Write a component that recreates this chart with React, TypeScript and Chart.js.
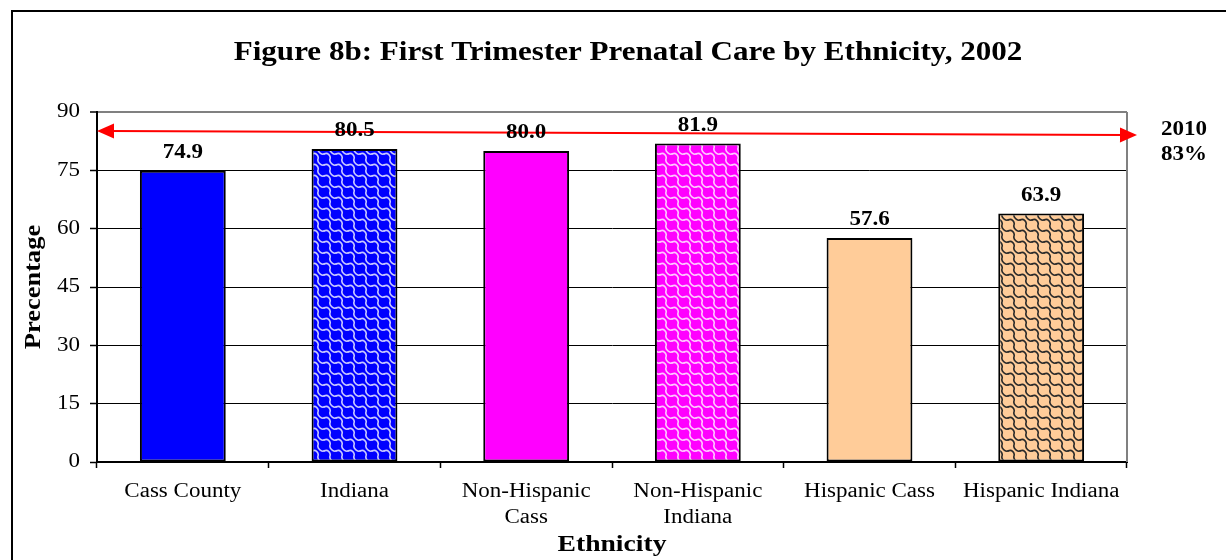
import React, { useEffect, useRef } from "react";
import { Chart, registerables } from "chart.js";

Chart.register(...registerables);

const categories: string[][] = [
  ["Cass County"],
  ["Indiana"],
  ["Non-Hispanic", "Cass"],
  ["Non-Hispanic", "Indiana"],
  ["Hispanic Cass"],
  ["Hispanic Indiana"],
];
const values: number[] = [74.9, 80.5, 80.0, 81.9, 57.6, 63.9];
const Y_MIN = 0;
const Y_MAX = 90;
const Y_STEP = 15;
const targetText: string[] = ["2010", "83%"];
const targetLineValues: number[] = [85.1, 84.1];
const chartTitle = "Figure 8b: First Trimester Prenatal Care by Ethnicity, 2002";
const xTitle = "Ethnicity";
const yTitle = "Precentage";

const SERIF = "'Liberation Serif', 'Times New Roman', Times, serif";
const TEXT_STRETCH = 1.15;

function patchContext(ctx: any) {
  if (!ctx || ctx.__stretched) return;
  const orig = ctx.fillText.bind(ctx);
  ctx.fillText = function (text: string, x: number, y: number, maxWidth?: number) {
    ctx.save();
    ctx.translate(x, y);
    ctx.scale(TEXT_STRETCH, 1);
    if (maxWidth !== undefined && maxWidth !== null) orig(text, 0, 0, maxWidth / TEXT_STRETCH);
    else orig(text, 0, 0);
    ctx.restore();
  };
  ctx.__stretched = true;
}

function makePattern(bg: string, fg: string): CanvasPattern | string {
  const w = 12;
  const h = 11;
  const c = document.createElement("canvas");
  c.width = w;
  c.height = h;
  const g = c.getContext("2d");
  if (!g) return bg;
  g.fillStyle = bg;
  g.fillRect(0, 0, w, h);
  g.strokeStyle = fg;
  g.lineWidth = 1.6;
  g.lineCap = "round";
  for (const dy of [-h, 0, h]) {
    for (const dx of [-w, 0, w]) {
      g.beginPath();
      g.moveTo(dx + 0, dy + 0);
      g.bezierCurveTo(dx + 4, dy - 2, dx + 7, dy + 2, dx + 6, dy + 5);
      g.bezierCurveTo(dx + 5, dy + 8, dx + 9, dy + 12, dx + 12, dy + 11);
      g.stroke();
    }
  }
  const p = g.createPattern(c, "repeat");
  return p || bg;
}

const overlayPlugin = {
  id: "overlay",
  afterDatasetsDraw(chart: any) {
    const { ctx, chartArea, scales } = chart;
    const y = scales.y;
    ctx.save();
    // right border of plot area
    ctx.strokeStyle = "#808080";
    ctx.lineWidth = 2;
    ctx.beginPath();
    ctx.moveTo(chartArea.right, chartArea.top);
    ctx.lineTo(chartArea.right, chartArea.bottom);
    ctx.stroke();

    // target arrow
    const x1 = chartArea.left;
    const x2 = chartArea.right + 10;
    const y1 = y.getPixelForValue(targetLineValues[0]);
    const y2 = y.getPixelForValue(targetLineValues[1]);
    ctx.strokeStyle = "#FF0000";
    ctx.fillStyle = "#FF0000";
    ctx.lineWidth = 2;
    ctx.beginPath();
    ctx.moveTo(x1 + 12, y1);
    ctx.lineTo(x2 - 12, y2);
    ctx.stroke();
    const ang = Math.atan2(y2 - y1, x2 - x1);
    const head = (x: number, yy: number, a: number) => {
      ctx.beginPath();
      ctx.moveTo(x, yy);
      ctx.lineTo(x - 17 * Math.cos(a) + 7.5 * Math.sin(a), yy - 17 * Math.sin(a) - 7.5 * Math.cos(a));
      ctx.lineTo(x - 17 * Math.cos(a) - 7.5 * Math.sin(a), yy - 17 * Math.sin(a) + 7.5 * Math.cos(a));
      ctx.closePath();
      ctx.fill();
    };
    head(x2, y2, ang);
    head(x1, y1, ang + Math.PI);

    // data labels
    const meta = chart.getDatasetMeta(0);
    ctx.fillStyle = "#000";
    ctx.font = `bold 20px ${SERIF}`;
    ctx.textAlign = "center";
    ctx.textBaseline = "bottom";
    meta.data.forEach((bar: any, i: number) => {
      ctx.fillText(values[i].toFixed(1), bar.x, bar.y - 8);
    });

    // target text
    ctx.fillStyle = "#000";
    ctx.font = `bold 20px ${SERIF}`;
    ctx.textAlign = "center";
    ctx.textBaseline = "middle";
    targetText.forEach((t, i) => {
      ctx.fillText(t, chartArea.right + 57, y1 - 1 + i * 25);
    });

    // chart title
    ctx.font = `bold 27px ${SERIF}`;
    ctx.textBaseline = "alphabetic";
    ctx.fillText(chartTitle, 628, 60);

    // outer frame
    ctx.strokeStyle = "#000";
    ctx.lineWidth = 2;
    ctx.beginPath();
    ctx.moveTo(12, chart.height + 5);
    ctx.lineTo(12, 11);
    ctx.lineTo(chart.width + 5, 11);
    ctx.stroke();
    ctx.restore();
  },
};

export default function App() {
  const ref = useRef<HTMLCanvasElement | null>(null);
  useEffect(() => {
    document.body.style.margin = "0";
    document.body.style.overflow = "hidden";
    const canvas = ref.current;
    if (!canvas) return;
    patchContext(canvas.getContext("2d"));
    Chart.defaults.font.family = SERIF;
    const bg = [
      "#0000FF",
      makePattern("#0000FF", "#C8C8FF"),
      "#FF00FF",
      makePattern("#FF00FF", "#FFC8FF"),
      "#FFCC99",
      makePattern("#FFCC99", "#2A2A2A"),
    ];
    const chart = new Chart(canvas, {
      type: "bar",
      data: {
        labels: categories,
        datasets: [
          {
            data: values,
            backgroundColor: bg as any,
            borderColor: "#000",
            borderWidth: 2,
            borderSkipped: false,
            categoryPercentage: 1,
            barPercentage: 0.5,
          },
        ],
      },
      plugins: [overlayPlugin],
      options: {
        animation: false,
        responsive: false,
        devicePixelRatio: 1,
        layout: { padding: { top: 112, right: 99, left: 0, bottom: 0 } },
        plugins: {
          legend: { display: false },
          title: { display: false },
          tooltip: { enabled: false },
        },
        scales: {
          x: {
            afterFit: (s: any) => {
              s.height = 98;
            },
            border: { display: true, color: "#000", width: 2 },
            grid: {
              display: true,
              offset: true,
              drawOnChartArea: false,
              drawTicks: true,
              tickLength: 6,
              tickColor: "#000",
              tickWidth: 1.5,
            },
            ticks: {
              color: "#000",
              padding: 10,
              maxRotation: 0,
              autoSkip: false,
              font: { family: SERIF, size: 20, lineHeight: 1.33 },
            },
            title: {
              display: true,
              text: xTitle,
              color: "#000",
              font: { family: SERIF, size: 24, weight: "bold", lineHeight: 1.2 },
              padding: { top: 0, bottom: 1 },
            },
          },
          y: {
            min: Y_MIN,
            max: Y_MAX,
            afterFit: (s: any) => {
              s.width = 97;
            },
            border: { display: true, color: "#000", width: 2 },
            grid: {
              color: (c: any) => (c.tick && c.tick.value === Y_MAX ? "#808080" : "#000"),
              lineWidth: (c: any) => (c.tick && c.tick.value === Y_MAX ? 2 : 1),
              tickLength: 7,
              tickColor: "#000",
              tickWidth: 1.5,
            },
            ticks: {
              stepSize: Y_STEP,
              color: "#000",
              padding: 10,
              font: { family: SERIF, size: 20 },
            },
            title: {
              display: true,
              text: yTitle,
              color: "#000",
              font: { family: SERIF, size: 23, weight: "bold", lineHeight: 1.2 },
              padding: { top: 20, bottom: 0 },
            },
          },
        },
      },
    });
    return () => chart.destroy();
  }, []);
  return (
    <div style={{ width: 1226, height: 560 }}>
      <canvas ref={ref} width={1226} height={560} style={{ display: "block", width: 1226, height: 560 }} />
    </div>
  );
}
